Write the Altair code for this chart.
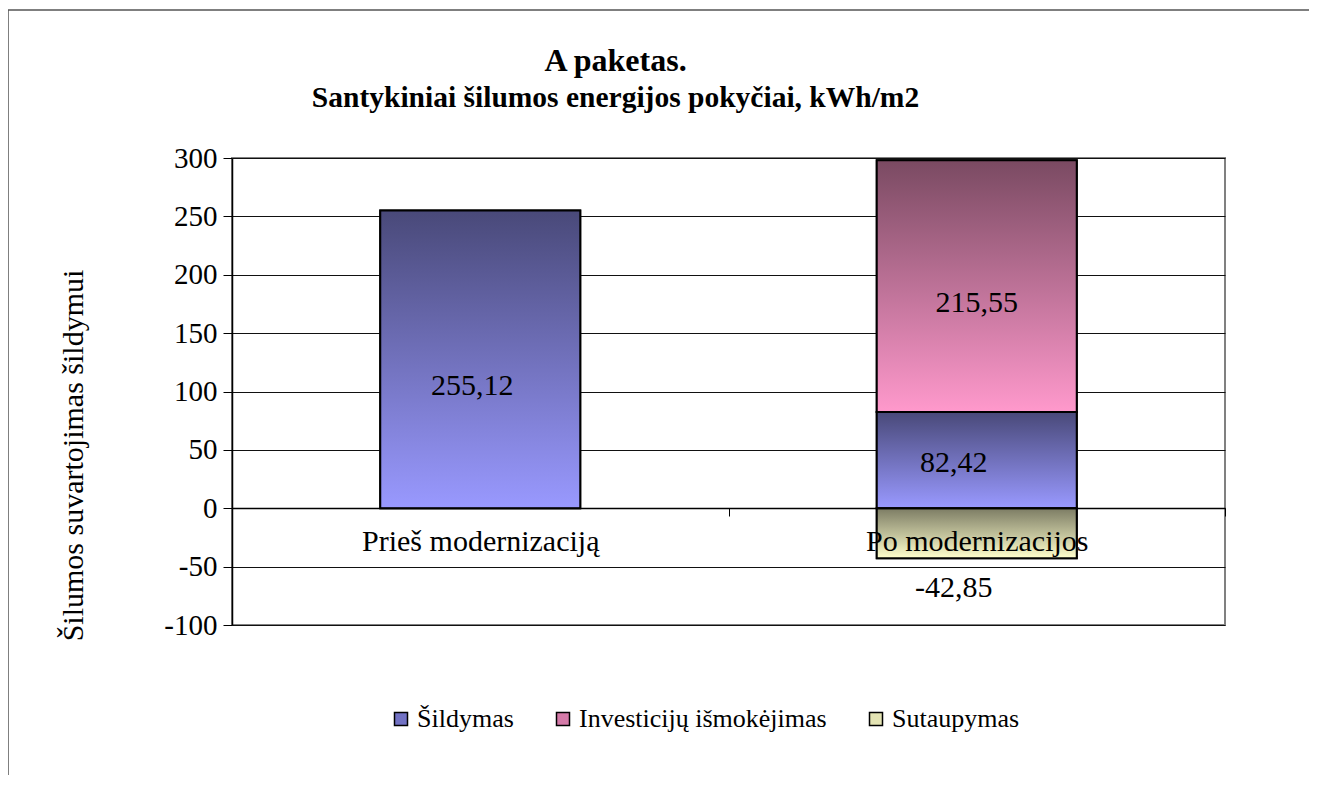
import altair as alt
import pandas as pd

categories = ["Prieš modernizaciją", "Po modernizacijos"]
series_names = ["Šildymas", "Investicijų išmokėjimas", "Sutaupymas"]
sildymas = [255.12, 82.42]
investicijos = [0.0, 215.55]
sutaupymas = [0.0, -42.85]
y_ticks = [-100, -50, 0, 50, 100, 150, 200, 250, 300]

solid_colors = ["#7272c4", "#d47aa8", "#e4e4b4"]
grad_top = ["#494979", "#7a4a62", "#7c7c64"]
grad_bottom = ["#9999ff", "#ff99cc", "#ffffcc"]

rows = []
for si, (name, vals) in enumerate(zip(series_names, [sildymas, investicijos, sutaupymas])):
    for ci, cat in enumerate(categories):
        rows.append({
            "cat": cat,
            "series": name,
            "value": vals[ci],
            "order": si,
            "label": f"{vals[ci]:.2f}".replace(".", ","),
        })
df = pd.DataFrame(rows)

FONT = "'Liberation Serif', 'Times New Roman', 'DejaVu Serif', serif"

base = (
    alt.Chart(df)
    .transform_filter("datum.value != 0")
    .transform_stack(stack="value", groupby=["cat"], as_=["y0", "y1"],
                     sort=[alt.SortField("order")])
    .transform_calculate(mid="(datum.y0 + datum.y1) / 2")
)

X = alt.X(
    "cat:N",
    sort=categories,
    scale=alt.Scale(paddingInner=0, paddingOuter=0),
    axis=alt.Axis(
        title=None, orient="bottom", offset=-117, tickBand="extent",
        labelFont=FONT, labelFontSize=30, labelColor="black", labelPadding=10,
        labelAngle=0, domainColor="black", domainWidth=1.5, tickColor="black",
        tickSize=8, zindex=1, labelOverlap=False, labelLimit=600,
    ),
)
Y_AXIS = alt.Axis(
    values=y_ticks, title="Šilumos suvartojimas šildymui",
    titleFont=FONT, titleFontSize=30, titleFontWeight="normal", titleColor="black",
    titleX=-159, titleY=297, titleAngle=270, titleAlign="center", titleBaseline="middle",
    labelFont=FONT, labelFontSize=29, labelColor="black", labelPadding=6,
    labelExpr="toString(datum.value)",
    domainColor="black", domainWidth=1.5, tickColor="black", tickSize=9,
    grid=True, gridColor="#111111", gridWidth=1,
)
Y_SCALE = alt.Scale(domain=[-100, 300], nice=False, zero=False)

BAR_W = 200

legend_bars = base.mark_bar(stroke="black", strokeWidth=2, width=BAR_W).encode(
    x=X,
    y=alt.Y("y0:Q", scale=Y_SCALE, axis=Y_AXIS),
    y2="y1:Q",
    color=alt.Color(
        "series:N",
        scale=alt.Scale(domain=series_names, range=solid_colors),
        title=None,
        legend=alt.Legend(
            orient="none", legendX=156, legendY=548, direction="horizontal",
            symbolType="square", symbolSize=169, symbolStrokeColor="black",
            symbolStrokeWidth=1.5, labelFont=FONT, labelFontSize=26,
            labelColor="black", columnPadding=36, labelOffset=3, labelLimit=600,
        ),
    ),
)

layers = [legend_bars]
for i, name in enumerate(series_names):
    grad = alt.Gradient(
        gradient="linear",
        stops=[alt.GradientStop(color=grad_top[i], offset=0),
               alt.GradientStop(color=grad_bottom[i], offset=1)],
        x1=0, x2=0, y1=0, y2=1,
    )
    layers.append(
        base.transform_filter(alt.datum.series == name)
        .mark_bar(fill=grad, stroke="black", strokeWidth=2, width=BAR_W)
        .encode(x=X, y=alt.Y("y0:Q", scale=Y_SCALE, axis=Y_AXIS), y2="y1:Q")
    )

# value labels (offsets match the reference's label placement)
label_offsets = {
    ("Prieš modernizaciją", "Šildymas"): (-8, 27),
    ("Po modernizacijos", "Šildymas"): (-23, 3),
    ("Po modernizacijos", "Investicijų išmokėjimas"): (0, 17),
    ("Po modernizacijos", "Sutaupymas"): (-23, 55),
}
for (cat, ser), (dx, dy) in label_offsets.items():
    layers.append(
        base.transform_filter((alt.datum.cat == cat) & (alt.datum.series == ser))
        .mark_text(font=FONT, fontSize=30, color="black", dx=dx, dy=dy, baseline="middle")
        .encode(x=X, y=alt.Y("mid:Q", scale=Y_SCALE, axis=Y_AXIS), text="label:N")
    )

frame_df = pd.DataFrame({"k": [0]})
frame_left = alt.Chart(frame_df).mark_rule(color="#555555", strokeWidth=1.5).encode(
    x=alt.value(-224), y=alt.value(-148), y2=alt.value(620)
)
frame_top = alt.Chart(frame_df).mark_rule(color="#555555", strokeWidth=1.5).encode(
    x=alt.value(-224), x2=alt.value(1080), y=alt.value(-148)
)
layers += [frame_left, frame_top]

chart = (
    alt.layer(*layers)
    .properties(
        width=993,
        height=467,
        padding={"left": 224, "top": 150, "right": 84, "bottom": 150},
        autosize=alt.AutoSizeParams(type="none"),
        title=alt.TitleParams(
            text="A paketas.",
            subtitle="Santykiniai šilumos energijos pokyčiai, kWh/m2",
            font=FONT, fontSize=32, fontWeight="bold", color="black",
            subtitleFont=FONT, subtitleFontSize=29.5, subtitleFontWeight="bold",
            subtitleColor="black", subtitlePadding=6,
            anchor="middle", frame="group", dx=-113, offset=-104,
        ),
    )
    .configure_view(stroke="#808080", strokeWidth=2)
)

chart.save("out.html", embed_options={"renderer": "svg", "actions": False})
